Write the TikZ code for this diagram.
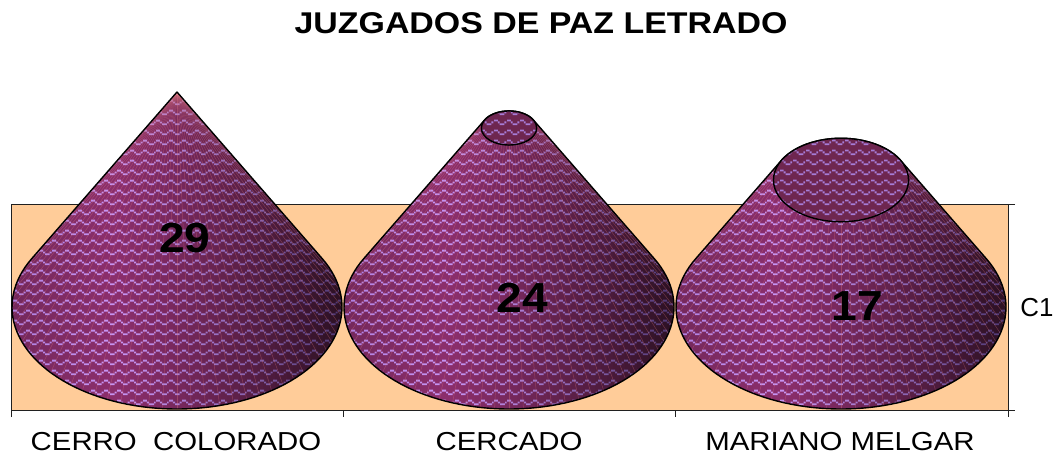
\documentclass[tikz,border=0pt]{standalone}
\usepackage{fontspec}
\setmainfont{Liberation Sans}
\usetikzlibrary{patterns.meta}
\definecolor{wallc}{HTML}{FFCC99}
\definecolor{baseL}{HTML}{74285C}
\definecolor{baseM}{HTML}{8C2E6C}
\definecolor{baseR}{HTML}{2A1022}
\definecolor{dashL}{HTML}{B080E0}
\definecolor{dashM}{HTML}{C794F2}
\definecolor{dashR}{HTML}{4E3670}
\definecolor{topbase}{HTML}{6E2650}
\definecolor{topdash}{HTML}{A67CD6}
\definecolor{genc}{HTML}{E07A80}
\definecolor{axisc}{HTML}{202020}
\tikzdeclarepattern{
  name=wavy, type=uncolored,
  bounding box={(0pt,0pt) and (13pt,10pt)},
  tile size={(13pt,10pt)},
  code={
    \fill (0pt,6pt) rectangle (4pt,8pt);
    \fill (4pt,4pt) rectangle (6pt,6pt);
    \fill (6pt,2pt) rectangle (11pt,4pt);
    \fill (11pt,4pt) rectangle (13pt,6pt);
  }
}
\tikzset{
  outline/.style={draw=black, line width=1.4pt, line join=round},
  genline/.style={genc, opacity=.35, line width=.5pt},
  axisline/.style={axisc, line width=1pt},
  catlabel/.style={font=\fontsize{26}{26}\selectfont, xscale=1.13, anchor=base},
  vallabel/.style={font=\fontsize{42}{42}\selectfont\bfseries, xscale=1.1, anchor=base},
}
\newcommand\mycone[2]{%
  \pgfmathsetmacro\cx{#1}%
  \pgfmathsetmacro\ta{165*#2}%
  \pgfmathsetmacro\tb{102*#2}%
  \pgfmathsetmacro\ty{92+215*#2}%
  \def\conepath{plot[domain=-28.32:208.32,samples=90] ({\cx+165*cos(\x)},{307+102*sin(\x)}) -- plot[domain=208.32:331.68,samples=50] ({\cx+\ta*cos(\x)},{\ty+\tb*sin(\x)}) -- cycle}%
  \begin{scope}
    \clip \conepath;
    \foreach \i in {0,...,55} {
      \pgfmathsetmacro\u{\i/55}
      \pgfmathsetmacro\xa{\cx-166+\i*6}
      \ifdim \u pt < 0.3pt
        \pgfmathsetmacro\p{100*\u/0.3}
        \colorlet{sb}{baseM!\p!baseL}\colorlet{sd}{dashM!\p!dashL}
      \else
        \pgfmathsetmacro\p{100*((\u-0.3)/0.7)^1.2}
        \colorlet{sb}{baseR!\p!baseM}\colorlet{sd}{dashR!\p!dashM}
      \fi
      \fill[sb] (\xa,80) rectangle ({\xa+6.4},415);
      \fill[pattern=wavy, pattern color=sd] (\xa,80) rectangle ({\xa+6.4},415);
    }
    \foreach \ang in {-25,-20,...,205}
      \draw[genline] ({\cx+\ta*cos(\ang)},{\ty+\tb*sin(\ang)}) -- ({\cx+165*cos(\ang)},{307+102*sin(\ang)});
  \end{scope}
  \draw[outline] \conepath;
}
\newcommand\mytop{%
  \fill[topbase] (\cx,\ty) ellipse [x radius=\ta, y radius=\tb];
  \fill[pattern=wavy, pattern color=topdash] (\cx,\ty) ellipse [x radius=\ta, y radius=\tb];
  \draw[outline] (\cx,\ty) ellipse [x radius=\ta, y radius=\tb];
}
\begin{document}
\begin{tikzpicture}[x=1pt,y=-1pt]
\useasboundingbox (0,0) rectangle (1056,456);
% wall
\fill[wallc] (11,204) rectangle (1008,410);
\draw[axisline] (11,417) -- (11,204) -- (1008,204);
\draw[axisline] (1015,204) -- (1008,204) -- (1008,417);
\draw[axisline] (1008,410) -- (1015,410);
\draw[axisline] (11,410) -- (1008,410);
\foreach \tx in {343,675} \draw[axisline] (\tx,410) -- (\tx,417);
% cones
\mycone{177}{0}
\mycone{509}{0.1674}
\mytop
\mycone{841}{0.4093}
\mytop
% labels
\node[font=\fontsize{30}{30}\selectfont\bfseries, xscale=1.13, anchor=base] (title) at (541,33.5) {JUZGADOS DE PAZ LETRADO};
\node[catlabel] (cat1) at (176,450) {CERRO\ \ COLORADO};
\node[catlabel] (cat2) at (509,450) {CERCADO};
\node[catlabel] (cat3) at (840,450) {MARIANO MELGAR};
\node[catlabel, xscale=0.88] (series) at (1037,316) {C1};
\node[vallabel] (v1) at (185,252) {29};
\node[vallabel] (v2) at (522,312) {24};
\node[vallabel] (v3) at (857,320) {17};
\end{tikzpicture}
\end{document}
